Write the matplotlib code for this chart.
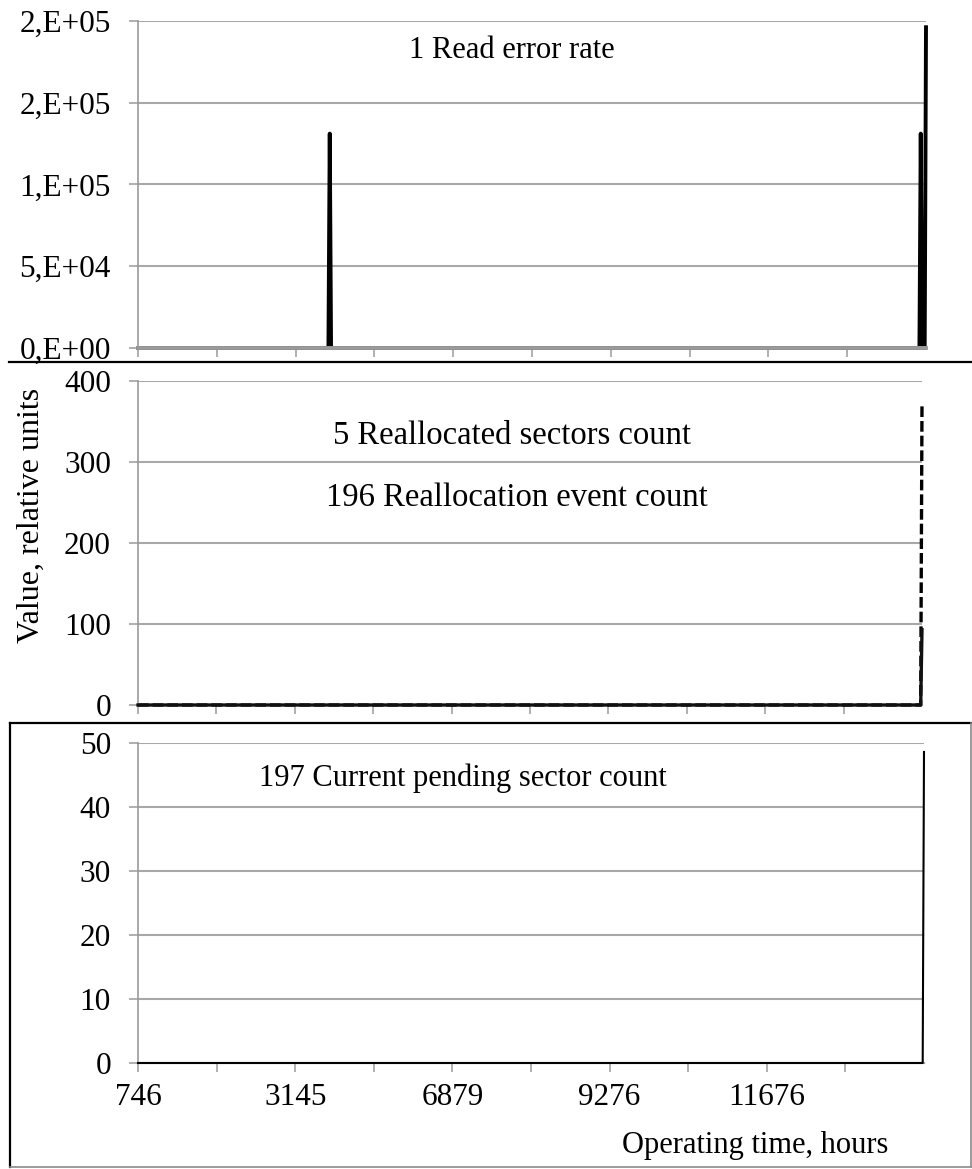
import numpy as np
import matplotlib
matplotlib.use('Agg')
import matplotlib.pyplot as plt
from matplotlib.lines import Line2D

plt.rcParams['font.family'] = ['Liberation Serif', 'DejaVu Serif']

# data (category index along operating time, spikes only; everything else is 0)
n_points = 601
hour_labels = ['746', '3145', '6879', '9276', '11676']
hour_label_idx = [0, 120, 240, 360, 480]

read_err_idx = [146, 596, 600]
read_err_val = [1.31e5, 1.31e5, 1.96e5]

realloc_sect_idx = [600]
realloc_sect_val = [93]

realloc_event_idx = [600]
realloc_event_val = [373]

pending_idx = [600]
pending_val = [48.6]

top_yticks = [0, 5e4, 1e5, 1.5e5, 2e5]
top_ylabels = ['0,E+00', '5,E+04', '1,E+05', '2,E+05', '2,E+05']
mid_yticks = [0, 100, 200, 300, 400]
bot_yticks = [0, 10, 20, 30, 40, 50]


def series(idx, vals):
    s = np.zeros(n_points)
    s[idx] = vals
    return s


W, H = 972, 1169
fig = plt.figure(figsize=(W / 100, H / 100), dpi=100)


def box(left, right, top, bottom):
    return [left / W, 1 - bottom / H, (right - left) / W, (bottom - top) / H]


grey = '#9a9a9a'
fs = 22.5
fs_txt = 22
x = np.arange(n_points)
tick_step = 60


def style(ax, yticks, ylim):
    ax.set_xlim(0, n_points - 1)
    ax.set_ylim(*ylim)
    ax.set_yticks(yticks)
    ax.set_xticks(range(0, n_points - tick_step, tick_step))
    ax.set_xticklabels([''] * len(ax.get_xticks()))
    ax.yaxis.grid(True, color='#a8a8a8', lw=1.5)
    ax.set_axisbelow(True)
    for s in ['top', 'right']:
        ax.spines[s].set_visible(False)
    ax.spines['left'].set_color(grey)
    ax.spines['left'].set_linewidth(1.2)
    ax.spines['bottom'].set_color(grey)
    ax.spines['bottom'].set_linewidth(1.5)
    ax.tick_params(axis='y', length=6.5, width=1.1, color=grey, pad=13, labelsize=fs)
    ax.tick_params(axis='x', length=6.5, width=1.1, color=grey, pad=8, labelsize=fs)


# top panel
ax1 = fig.add_axes(box(138, 926, 20.7, 348))
ax1.plot(x, series(read_err_idx, read_err_val), color='black', lw=2.8, zorder=2,
         clip_on=False)
style(ax1, top_yticks, (0, 2e5))
ax1.set_yticklabels(top_ylabels)
ax1.spines['bottom'].set_linewidth(2.8)
ax1.spines['bottom'].set_zorder(3)
ax1.text(0.475, 0.91, '1 Read error rate', transform=ax1.transAxes,
         ha='center', va='center', fontsize=fs_txt)

# middle panel
ax2 = fig.add_axes(box(138, 922, 381, 705))
ax2.plot(x, series(realloc_event_idx, realloc_event_val), color='black', lw=2.4,
         dashes=(3.2, 1.2), zorder=2, clip_on=False)
ax2.plot(x, series(realloc_sect_idx, realloc_sect_val), color='#111111', lw=2.4, zorder=3,
         clip_on=False)
style(ax2, mid_yticks, (0, 400))
ax2.text(0.477, 0.83, '5 Reallocated sectors count', transform=ax2.transAxes,
         ha='center', va='center', fontsize=23.5)
ax2.text(0.483, 0.64, '196 Reallocation event count', transform=ax2.transAxes,
         ha='center', va='center', fontsize=23.5)

# bottom panel
ax3 = fig.add_axes(box(138, 924, 743, 1063))
ax3.plot(x, series(pending_idx, pending_val), color='black', lw=1.5, zorder=3,
         clip_on=False)
style(ax3, bot_yticks, (0, 50))
xt_labels = [''] * len(ax3.get_xticks())
for i, lab in zip(hour_label_idx, hour_labels):
    xt_labels[i // tick_step] = lab
ax3.set_xticklabels(xt_labels)
ax3.text(0.413, 0.89, '197 Current pending sector count', transform=ax3.transAxes,
         ha='center', va='center', fontsize=fs_txt)

fig.text(755 / W, 1 - 1145 / H, 'Operating time, hours', ha='center', va='center', fontsize=fs_txt)
fig.text(31 / W, 1 - 515 / H, 'Value, relative units', rotation=90,
         ha='center', va='center', fontsize=23)


# panel frame lines
def fline(x0, y0, x1, y1, color='black', lw=1.6):
    fig.add_artist(Line2D([x0 / W, x1 / W], [1 - y0 / H, 1 - y1 / H],
                          color=color, lw=lw, transform=fig.transFigure))


fline(9, 362, 972, 362)
fline(10, 723, 972, 723)
fline(10, 723, 10, 1167)
fline(10, 1167, 971, 1167, color='#8a8a8a', lw=1.2)
fline(971, 723, 971, 1167, color='#8a8a8a', lw=1.2)

fig.savefig('out.png', dpi=100)
